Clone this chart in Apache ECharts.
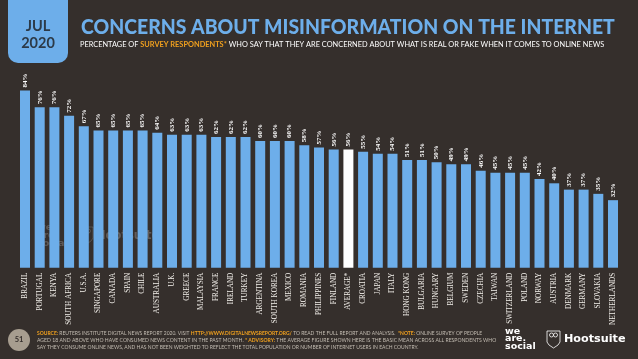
<!DOCTYPE html>
<html>
<head>
<meta charset="utf-8">
<style>
  html, body { margin: 0; padding: 0; background: #352f2c; }
  #chart { width: 638px; height: 359px; }
</style>
</head>
<body>
<div id="chart"></div>
<script src="https://cdn.jsdelivr.net/npm/echarts@6/dist/echarts.min.js"></script>
<script>
const countries = ['BRAZIL', 'PORTUGAL', 'KENYA', 'SOUTH AFRICA', 'U.S.A.', 'SINGAPORE', 'CANADA', 'SPAIN', 'CHILE', 'AUSTRALIA', 'U.K.', 'GREECE', 'MALAYSIA', 'FRANCE', 'IRELAND', 'TURKEY', 'ARGENTINA', 'SOUTH KOREA', 'MEXICO', 'ROMANIA', 'PHILIPPINES', 'FINLAND', 'AVERAGE*', 'CROATIA', 'JAPAN', 'ITALY', 'HONG KONG', 'BULGARIA', 'HUNGARY', 'BELGIUM', 'SWEDEN', 'CZECHIA', 'TAIWAN', 'SWITZERLAND', 'POLAND', 'NORWAY', 'AUSTRIA', 'DENMARK', 'GERMANY', 'SLOVAKIA', 'NETHERLANDS']
const concerned = [84, 76, 76, 72, 67, 65, 65, 65, 65, 64, 63, 63, 63, 62, 62, 62, 60, 60, 60, 58, 57, 56, 56, 55, 54, 54, 51, 51, 50, 49, 49, 46, 45, 45, 45, 42, 40, 37, 37, 35, 32]
const averageName = 'AVERAGE*'

const BLUE = '#6daeea'
const ORANGE = '#f0a01e'
const GREY = '#c4bdb3'

const chart = echarts.init(document.getElementById('chart'))

// 脚注的一行，带橙色高亮
const footLine = (y, text, sx) => ({
  type: 'text',
  x: 37,
  y: y,
  scaleX: sx,
  style: {
    text: text,
    fill: GREY,
    font: '5.6px Lato',
    verticalAlign: 'middle',
    rich: {
      o: { fill: ORANGE, font: 'bold 5.6px Lato' }
    }
  }
})

// 水印和右下角的 logo 共用
const wearesocial = (x, y, size, step, opacity) => ['we', 'are.', 'social'].map((t, i) => ({
  type: 'text',
  x: x,
  y: y + i * step,
  style: {
    text: t,
    fill: '#fff',
    opacity: opacity,
    font: '900 ' + size + 'px "DejaVu Sans"',
    verticalAlign: 'middle'
  }
}))

// 猫头鹰盾牌，x/y 是左上角
const owl = (x, y, opacity) => {
  const line = { fill: 'none', stroke: '#ffffff', lineWidth: 0.8, opacity: opacity }
  return [
    {
      type: 'polygon',
      x: x,
      y: y,
      shape: { points: [[0, 0], [13, 0], [13, 11], [11, 14], [6.5, 17], [2, 14], [0, 11]] },
      style: line
    },
    { type: 'circle', x: x, y: y, shape: { cx: 4.5, cy: 4, r: 2 }, style: line },
    { type: 'circle', x: x, y: y, shape: { cx: 8.5, cy: 4, r: 2 }, style: line }
  ]
}

const option = {
  backgroundColor: '#352f2c',
  animation: false,
  grid: { left: 17.65, right: 17.65, top: 56.7, bottom: 91.3 },
  xAxis: {
    type: 'category',
    data: countries,
    axisLine: { show: false },
    axisTick: { show: false },
    axisLabel: {
      interval: 0,
      rotate: 90,
      margin: 5,
      color: '#f2efea',
      fontSize: 7.2,
      fontFamily: 'Liberation Sans Narrow'
    }
  },
  yAxis: {
    type: 'value',
    min: 0,
    max: 100,
    show: false
  },
  series: [
    {
      type: 'bar',
      barWidth: 10,
      data: concerned.map((v, i) => ({
        value: v,
        itemStyle: { color: countries[i] === averageName ? '#ffffff' : BLUE }
      })),
      label: {
        show: true,
        position: 'top',
        distance: 3,
        rotate: 90,
        align: 'left',
        verticalAlign: 'middle',
        formatter: '{c}%',
        color: '#ffffff',
        fontSize: 7,
        fontWeight: 'bold',
        fontFamily: 'Liberation Sans Narrow'
      }
    }
  ],
  graphic: [
    // 左上角日期
    {
      type: 'rect',
      shape: { x: 8, y: -12, width: 60, height: 75, r: 10 },
      style: { fill: BLUE }
    },
    {
      type: 'text',
      x: 38,
      y: 26,
      style: { text: 'JUL', fill: '#2c3a48', font: 'bold 14.5px Lato', align: 'center', verticalAlign: 'middle' }
    },
    {
      type: 'text',
      x: 38,
      y: 43,
      style: { text: '2020', fill: '#2c3a48', font: 'bold 14.5px Lato', align: 'center', verticalAlign: 'middle' }
    },
    // 标题
    {
      type: 'text',
      x: 81,
      y: 28,
      scaleX: 0.97,
      style: {
        text: 'CONCERNS ABOUT MISINFORMATION ON THE INTERNET',
        fill: BLUE,
        font: '900 20px Lato',
        verticalAlign: 'middle'
      }
    },
    {
      type: 'text',
      x: 80,
      y: 45,
      scaleX: 0.972,
      style: {
        text: 'PERCENTAGE OF {o|SURVEY RESPONDENTS*} WHO SAY THAT THEY ARE CONCERNED ABOUT WHAT IS REAL OR FAKE WHEN IT COMES TO ONLINE NEWS',
        fill: '#ffffff',
        font: '7.6px Lato',
        verticalAlign: 'middle',
        rich: {
          o: { fill: ORANGE, font: 'bold 7.6px Lato' }
        }
      }
    },
    // 页码
    {
      type: 'circle',
      shape: { cx: 19, cy: 340, r: 11 },
      style: { fill: '#a79d8f' }
    },
    {
      type: 'text',
      x: 19,
      y: 340,
      style: { text: '51', fill: '#352f2c', font: 'bold 7.5px Lato', align: 'center', verticalAlign: 'middle' }
    },
    // 脚注
    footLine(333, '{o|SOURCE:} REUTERS INSTITUTE DIGITAL NEWS REPORT 2020. VISIT {o|HTTP://WWW.DIGITALNEWSREPORT.ORG/} TO READ THE FULL REPORT AND ANALYSIS.  {o|*NOTE:} ONLINE SURVEY OF PEOPLE', 0.89),
    footLine(340, 'AGED 18 AND ABOVE WHO HAVE CONSUMED NEWS CONTENT IN THE PAST MONTH. {o|* ADVISORY:} THE AVERAGE FIGURE SHOWN HERE IS THE BASIC MEAN ACROSS ALL RESPONDENTS WHO', 0.91),
    footLine(347, 'SAY THEY CONSUME ONLINE NEWS, AND HAS NOT BEEN WEIGHTED TO REFLECT THE TOTAL POPULATION OR NUMBER OF INTERNET USERS IN EACH COUNTRY.', 0.895),
    // logo
    ...wearesocial(505, 331.5, 9.5, 7.3, 1),
    ...owl(547, 331, 1),
    {
      type: 'text',
      x: 564,
      y: 339,
      style: { text: 'Hootsuite', fill: '#ffffff', font: 'bold 11.2px "DejaVu Sans"', verticalAlign: 'middle' }
    },
    // 水印
    ...wearesocial(37, 228, 9.5, 8, 0.2),
    ...owl(80, 227, 0.2),
    {
      type: 'text',
      x: 96,
      y: 236,
      style: { text: 'Hootsuite', fill: '#ffffff', opacity: 0.22, font: 'bold 11.5px "DejaVu Sans"', verticalAlign: 'middle' }
    }
  ]
}

chart.setOption(option)
</script>
</body>
</html>
